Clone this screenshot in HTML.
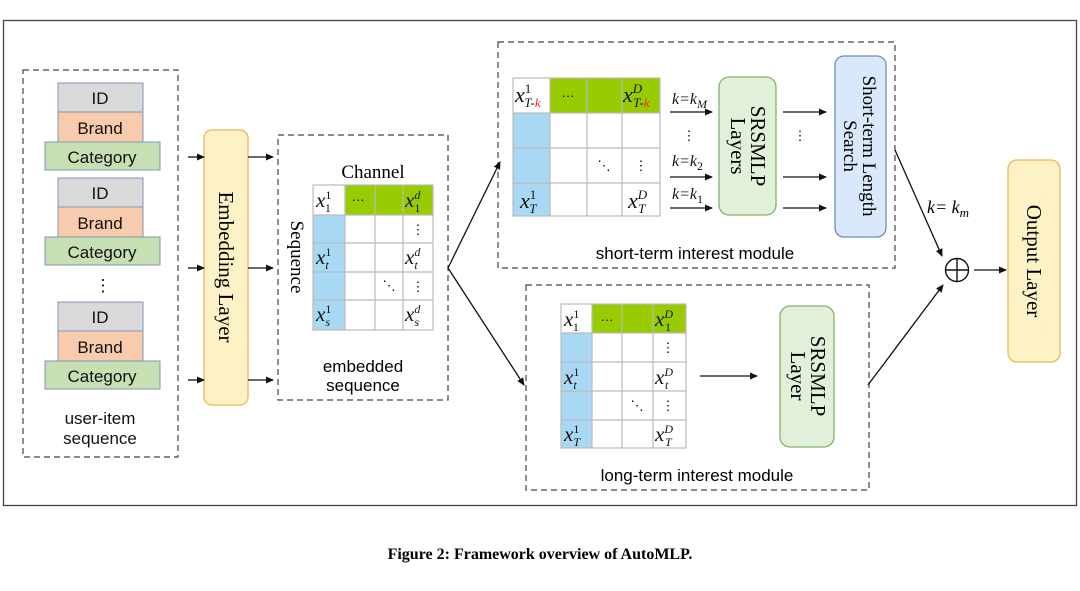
<!DOCTYPE html>
<html><head><meta charset="utf-8"><style>
html,body{margin:0;padding:0;background:#fff;width:1080px;height:591px;overflow:hidden}
svg{display:block}
.s{font-family:"Liberation Sans",sans-serif}
.r{font-family:"Liberation Serif",serif}
.m{font-family:"Liberation Serif",serif;font-style:italic}
.u{font-style:normal}
</style></head><body>
<svg width="1080" height="591" viewBox="0 0 1080 591" xmlns="http://www.w3.org/2000/svg">
<defs><marker id="a" markerWidth="8" markerHeight="8" refX="7" refY="4" orient="auto" markerUnits="userSpaceOnUse"><path d="M0,0.5 L8,4 L0,7.5 z" fill="#111"/></marker></defs>
<rect x="3.5" y="20.5" width="1073" height="485" fill="none" stroke="#444" stroke-width="1.3"/>
<g fill="none" stroke="#444" stroke-width="1.2" stroke-dasharray="6,4">
<rect x="23" y="70" width="155" height="387"/>
<rect x="278" y="135" width="170" height="265"/>
<rect x="498" y="42" width="397" height="226"/>
<rect x="526" y="285" width="343" height="205"/>
</g>
<g class="s" font-size="17" text-anchor="middle" fill="#111" stroke-width="1">
<g id="st">
<rect x="58" y="83" width="85" height="29" fill="#d9d9d9" stroke="#7f97b5"/>
<rect x="58" y="112" width="85" height="30" fill="#f8cbad" stroke="#7f97b5"/>
<rect x="45" y="142" width="115" height="28" fill="#c6e0b4" stroke="#7f97b5"/>
<text x="100" y="104">ID</text><text x="100" y="134">Brand</text><text x="102" y="163">Category</text>
</g>
<use href="#st" y="95"/>
<use href="#st" y="219"/>
<text x="103" y="291">⋮</text>
<text x="100" y="424">user-item</text><text x="100" y="444">sequence</text>
</g>
<rect x="204" y="130" width="44" height="275" rx="8" fill="#fdf1c6" stroke="#e8b85a" stroke-width="1.3"/>
<text class="r" font-size="21" text-anchor="middle" transform="translate(219,267) rotate(90)">Embedding Layer</text>
<g stroke="#111" stroke-width="1.3" marker-end="url(#a)">
<line x1="188" y1="157" x2="204" y2="157" marker-end=""/><line x1="188" y1="268" x2="204" y2="268" marker-end=""/><line x1="188" y1="380" x2="204" y2="380" marker-end=""/>
<line x1="248" y1="157" x2="273" y2="157"/><line x1="248" y1="268" x2="273" y2="268"/><line x1="248" y1="380" x2="273" y2="380"/>
<line x1="448" y1="268" x2="500" y2="162"/>
<line x1="448" y1="268" x2="524" y2="385"/>
<line x1="670" y1="112" x2="712" y2="112"/><line x1="670" y1="177" x2="712" y2="177"/><line x1="670" y1="208" x2="712" y2="208"/>
<line x1="783" y1="112" x2="826" y2="112"/><line x1="783" y1="177" x2="826" y2="177"/><line x1="783" y1="208" x2="826" y2="208"/>
<line x1="700" y1="376" x2="757" y2="376"/>
<line x1="895" y1="150" x2="942" y2="256"/>
<line x1="868" y1="385" x2="943" y2="285"/>
<line x1="974" y1="270" x2="1006" y2="270"/>
</g>
<text class="r" x="373" y="178" font-size="19" text-anchor="middle">Channel</text>
<text class="r" font-size="19" text-anchor="middle" transform="translate(291,257) rotate(90)">Sequence</text>
<rect x="345" y="185" width="88" height="30" fill="#99cc00"/>
<rect x="313" y="215" width="32" height="115" fill="#a9d8f5"/>
<g stroke="#bbb" stroke-width="1.2" fill="none">
<rect x="313" y="185" width="120" height="145"/>
<path d="M345 185V330M375 185V330M403 185V330M313 215H433M313 243H433M313 272H433M313 300H433"/>
</g>
<g class="m" font-size="21" fill="#111">
<text x="316" y="207">x<tspan class="u" font-size="12" dy="-8">1</tspan><tspan class="u" font-size="12" dx="-6" dy="13">1</tspan></text>
<text x="405" y="207">x<tspan font-size="12" dy="-8">d</tspan><tspan class="u" font-size="12" dx="-6" dy="13">1</tspan></text>
<text x="316" y="264">x<tspan class="u" font-size="12" dy="-8">1</tspan><tspan font-size="12" dx="-6" dy="13">t</tspan></text>
<text x="405" y="264">x<tspan font-size="12" dy="-8">d</tspan><tspan font-size="12" dx="-6" dy="13">t</tspan></text>
<text x="316" y="321">x<tspan class="u" font-size="12" dy="-8">1</tspan><tspan font-size="12" dx="-6" dy="13">s</tspan></text>
<text x="405" y="321">x<tspan font-size="12" dy="-8">d</tspan><tspan font-size="12" dx="-6" dy="13">s</tspan></text>
</g>
<g class="s" font-size="13" text-anchor="middle"><text x="358" y="204">···</text><text x="418" y="234">⋮</text><text x="418" y="291">⋮</text><text x="389" y="290">⋱</text></g>
<text class="s" x="363" y="372" font-size="17" text-anchor="middle">embedded</text>
<text class="s" x="363" y="391" font-size="17" text-anchor="middle">sequence</text>
<rect x="550" y="78" width="110" height="35" fill="#99cc00"/>
<rect x="513" y="113" width="37" height="103" fill="#a9d8f5"/>
<g stroke="#bbb" stroke-width="1.2" fill="none">
<rect x="513" y="78" width="147" height="138"/>
<path d="M550 78V216M587 78V216M622 78V216M513 113H660M513 148H660M513 183H660"/>
</g>
<g class="m" font-size="22" fill="#111">
<text x="515" y="102">x<tspan class="u" font-size="13" dy="-9">1</tspan><tspan font-size="13" dx="-7" dy="14">T-</tspan><tspan font-size="13" fill="#e03020">k</tspan></text>
<text x="623" y="102">x<tspan font-size="13" dy="-9">D</tspan><tspan font-size="13" dx="-9" dy="14">T-</tspan><tspan font-size="13" fill="#e03020">k</tspan></text>
<text x="520" y="208">x<tspan class="u" font-size="13" dy="-9">1</tspan><tspan font-size="13" dx="-7" dy="14">T</tspan></text>
<text x="628" y="208">x<tspan font-size="13" dy="-9">D</tspan><tspan font-size="13" dx="-9" dy="14">T</tspan></text>
</g>
<g class="s" font-size="13" text-anchor="middle"><text x="568" y="100">···</text><text x="641" y="170">⋮</text><text x="604" y="170">⋱</text>
<text x="689" y="140">⋮</text><text x="800" y="140">⋮</text></g>
<g class="m" font-size="16" fill="#111">
<text x="672" y="104">k=k<tspan font-size="12" dy="4">M</tspan></text>
<text x="672" y="166">k=k<tspan class="u" font-size="12" dy="4">2</tspan></text>
<text x="672" y="199">k=k<tspan class="u" font-size="12" dy="4">1</tspan></text>
</g>
<rect x="719" y="77" width="57" height="138" rx="10" fill="#e2f0d9" stroke="#82b366" stroke-width="1.3"/>
<text class="r" font-size="21" transform="translate(748,146) rotate(90)" text-anchor="middle"><tspan x="0" dy="-3">SRSMLP</tspan><tspan x="0" dy="20">Layers</tspan></text>
<rect x="835" y="56" width="51" height="181" rx="9" fill="#dae8fc" stroke="#6c8ebf" stroke-width="1.3"/>
<text class="r" font-size="19" transform="translate(860,146) rotate(90)" text-anchor="middle"><tspan x="0" dy="-3">Short-term Length</tspan><tspan x="0" dy="19">Search</tspan></text>
<text class="s" x="695" y="259" font-size="17" text-anchor="middle">short-term interest module</text>
<rect x="592" y="304" width="94" height="29" fill="#99cc00"/>
<rect x="561" y="333" width="31" height="115" fill="#a9d8f5"/>
<g stroke="#bbb" stroke-width="1.2" fill="none">
<rect x="561" y="304" width="125" height="144"/>
<path d="M592 304V448M622 304V448M653 304V448M561 333H686M561 362H686M561 391H686M561 420H686"/>
</g>
<g class="m" font-size="21" fill="#111">
<text x="564" y="326">x<tspan class="u" font-size="12" dy="-8">1</tspan><tspan class="u" font-size="12" dx="-6" dy="13">1</tspan></text>
<text x="655" y="326">x<tspan font-size="12" dy="-8">D</tspan><tspan class="u" font-size="12" dx="-8" dy="13">1</tspan></text>
<text x="564" y="384">x<tspan class="u" font-size="12" dy="-8">1</tspan><tspan font-size="12" dx="-6" dy="13">t</tspan></text>
<text x="655" y="384">x<tspan font-size="12" dy="-8">D</tspan><tspan font-size="12" dx="-8" dy="13">t</tspan></text>
<text x="564" y="441">x<tspan class="u" font-size="12" dy="-8">1</tspan><tspan font-size="12" dx="-6" dy="13">T</tspan></text>
<text x="655" y="441">x<tspan font-size="12" dy="-8">D</tspan><tspan font-size="12" dx="-8" dy="13">T</tspan></text>
</g>
<g class="s" font-size="13" text-anchor="middle"><text x="607" y="324">···</text><text x="668" y="352">⋮</text><text x="668" y="410">⋮</text><text x="637" y="410">⋱</text></g>
<rect x="780" y="306" width="54" height="141" rx="10" fill="#e2f0d9" stroke="#82b366" stroke-width="1.3"/>
<text class="r" font-size="21" transform="translate(808,376) rotate(90)" text-anchor="middle"><tspan x="0" dy="-3">SRSMLP</tspan><tspan x="0" dy="20">Layer</tspan></text>
<text class="s" x="697" y="481" font-size="17" text-anchor="middle">long-term interest module</text>
<text class="m" x="927" y="213" font-size="18">k= k<tspan font-size="13" dy="4">m</tspan></text>
<circle cx="957" cy="270" r="11.5" fill="none" stroke="#111" stroke-width="1.4"/>
<path d="M945.5 270H968.5M957 258.5V281.5" stroke="#111" stroke-width="1.4"/>
<rect x="1008" y="160" width="52" height="202" rx="9" fill="#fdf1c6" stroke="#e8b85a" stroke-width="1.3"/>
<text class="r" font-size="21" transform="translate(1027,261) rotate(90)" text-anchor="middle">Output Layer</text>
<text class="r" x="540" y="559" font-size="16" font-weight="bold" text-anchor="middle">Figure 2: Framework overview of AutoMLP.</text>
</svg>
</body></html>
